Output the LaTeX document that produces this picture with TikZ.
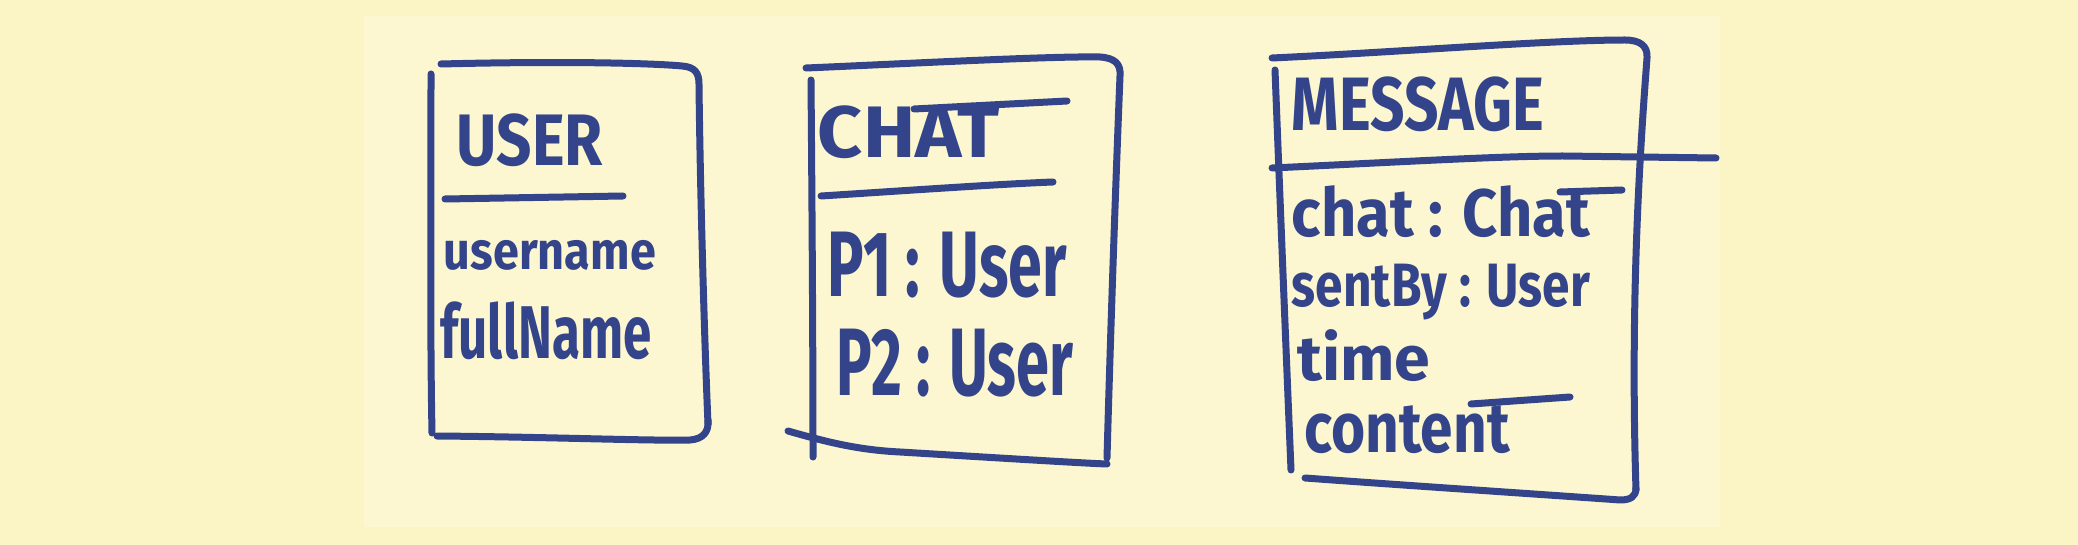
\documentclass[tikz,border=0pt]{standalone}
\usepackage{fontspec}
\setmainfont{Fira Sans}
\usepackage{graphicx}
\definecolor{ink}{HTML}{34448A}
\definecolor{board}{HTML}{FBF5C6}
\definecolor{photo}{HTML}{FCF7D0}
\newcommand{\fitt}[3]{\resizebox*{#1pt}{#2pt}{\bfseries #3}}
\begin{document}
\begin{tikzpicture}[x=1pt,y=-1pt,
  pen/.style={draw=ink,line width=7pt,line cap=round,line join=round},
  hand/.style={text=ink,inner sep=0pt,anchor=center}]
\fill[board] (0,0) rectangle (2078,545);
\fill[photo] (364,16) rectangle (1720,527);
\useasboundingbox (0,0) rectangle (2078,545);

% ---------- USER ----------
\draw[pen] (431,74) .. controls (431,200) and (430,330) .. (432,433);
\draw[pen] (441,64) .. controls (560,61) and (650,63) .. (682,66)
  .. controls (695,67) and (699,73) .. (699,84)
  .. controls (700,180) and (704,330) .. (708,424);
\draw[pen] (437,436) .. controls (550,437) and (650,441) .. (690,440)
  .. controls (703,439) and (709,432) .. (708,420);
\draw[pen] (445,199) -- (623,196);
\node[hand] (user) at (530,140) {\fitt{146}{53}{USER}};
\node[hand] (username) at (550,255) {\fitt{212}{30}{username}};
\node[hand] (fullname) at (546,331) {\fitt{211}{58}{fullName}};

% ---------- CHAT ----------
\draw[pen] (811,80) .. controls (812,200) and (813,350) .. (813,457);
\draw[pen] (806,68) .. controls (900,64) and (1050,56) .. (1100,57)
  .. controls (1115,58) and (1121,64) .. (1120,76)
  .. controls (1115,200) and (1110,350) .. (1107,458);
\draw[pen] (788,431) .. controls (830,443) and (860,450) .. (900,452)
  .. controls (1000,458) and (1080,463) .. (1107,464);
\draw[pen] (914,109) -- (1067,101);
\draw[pen] (821,196) .. controls (900,191) and (1000,184) .. (1053,182);
\node[hand] (chat) at (909,132) {\fitt{182}{53}{CHAT}};
\node[hand] (p1) at (947,265) {\fitt{239}{66}{P1 : User}};
\node[hand] (p2) at (955,363) {\fitt{236}{68}{P2 : User}};

% ---------- MESSAGE ----------
\draw[pen] (1275,70) .. controls (1280,200) and (1286,350) .. (1291,470);
\draw[pen] (1272,58) .. controls (1400,52) and (1550,40) .. (1625,40)
  .. controls (1640,40) and (1648,46) .. (1647,58)
  .. controls (1640,150) and (1630,300) .. (1636,490);
\draw[pen] (1305,478) .. controls (1400,485) and (1550,495) .. (1620,500)
  .. controls (1630,500) and (1636,497) .. (1636,488);
\draw[pen] (1272,168) .. controls (1400,162) and (1500,156) .. (1563,156) -- (1716,158);
\draw[pen] (1560,192) -- (1622,190);
\draw[pen] (1471,404) -- (1570,397);
\node[hand] (message) at (1418,104) {\fitt{252}{55}{MESSAGE}};
\node[hand] (chatattr) at (1441,212) {\fitt{298}{52}{chat : Chat}};
\node[hand] (sentby) at (1441,292) {\fitt{298}{56}{sentBy : User}};
\node[hand] (time) at (1364,356) {\fitt{133}{52}{time}};
\node[hand] (content) at (1407,430) {\fitt{205}{48}{content}};
\end{tikzpicture}
\end{document}
